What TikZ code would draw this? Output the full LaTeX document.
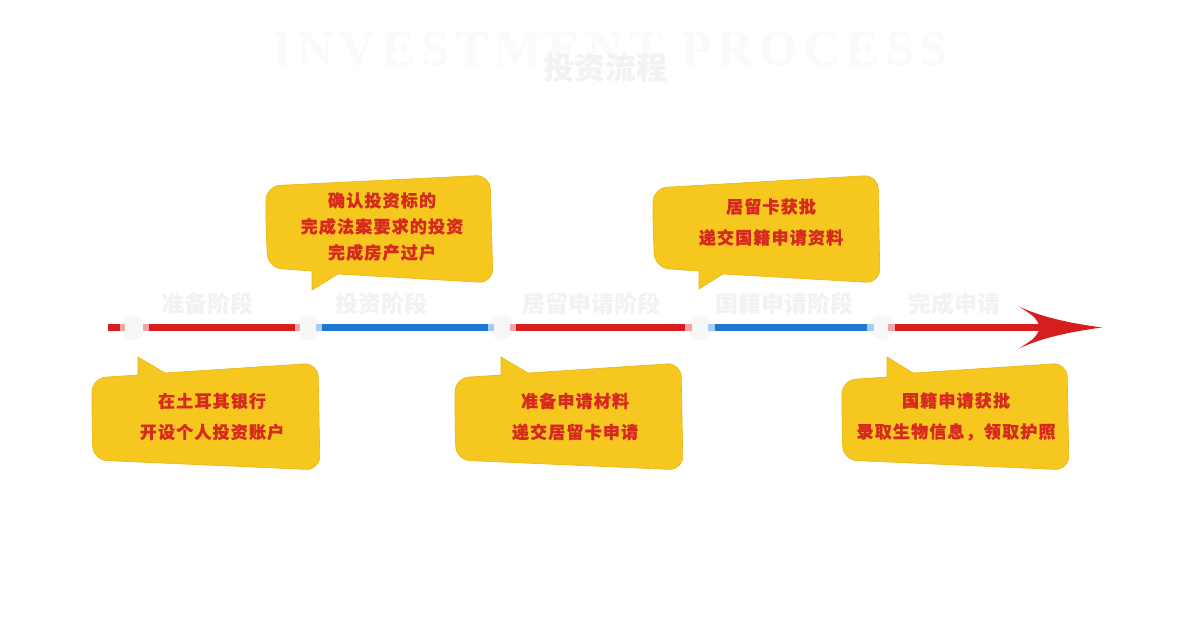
\documentclass[tikz,border=0pt]{standalone}
\usepackage{fontspec}
\newfontfamily\cjk{Noto Sans CJK SC}
\newfontfamily\cjkls{Noto Sans CJK SC}[LetterSpace=7, BoldFeatures={FakeBold=0.6}]
\newfontfamily\titlefont{Liberation Serif}[LetterSpace=12]
\definecolor{bubbleyellow}{HTML}{F6C81F}
\definecolor{bubbleedge}{HTML}{E6B612}
\definecolor{textred}{HTML}{D62A1E}
\definecolor{barred}{HTML}{D71E1E}
\definecolor{barblue}{HTML}{1F77D0}
\definecolor{barpink}{HTML}{F0A4A4}
\definecolor{barlblue}{HTML}{A6CCF0}
\definecolor{dotgray}{HTML}{F7F7F7}
\definecolor{stagegray}{HTML}{F2F2F2}
\definecolor{titlegray}{HTML}{FAFAFA}
\definecolor{titlecn}{HTML}{F2F2F2}
\begin{document}
\begin{tikzpicture}[x=1pt,y=-1pt,
  bubble/.style={fill=bubbleyellow, draw=bubbleedge, line width=0.6pt, rounded corners=14pt},
  bubbletext/.style={text=textred, font=\cjkls\bfseries\fontsize{17}{31}\selectfont, align=center, inner sep=0pt},
  stagelabel/.style={text=stagegray, font=\cjk\bfseries\fontsize{23}{23}\selectfont, inner sep=0pt},
  dot/.style={circle, fill=dotgray, minimum size=25pt, inner sep=0pt},
  redbar/.style={draw=barred, line width=7pt},
  bluebar/.style={draw=barblue, line width=7pt},
  pinkbar/.style={draw=barpink, line width=7pt},
  lbluebar/.style={draw=barlblue, line width=7pt}
]
\useasboundingbox[fill=white] (0,0) rectangle (1203,635);

% title
\node[anchor=base, inner sep=0pt, text=titlegray, font=\titlefont\bfseries\fontsize{50}{50}\selectfont] (title) at (610,65) {INVESTMENT PROCESS};
\node[inner sep=0pt, text=titlecn, font=\cjk\bfseries\fontsize{31}{31}\selectfont] (titlecn) at (605,67.5) {投资流程};

% stage labels
\node[stagelabel] (l1) at (207,304) {准备阶段};
\node[stagelabel] (l2) at (381,304) {投资阶段};
\node[stagelabel] (l3) at (591,304) {居留申请阶段};
\node[stagelabel] (l4) at (784,304) {国籍申请阶段};
\node[stagelabel] (l5) at (954,304) {完成申请};

% timeline dots
\coordinate (s) at (108,327.5);
\node[dot] (c1) at (133,327.5) {};
\node[dot] (c2) at (308,327.5) {};
\node[dot] (c3) at (502,327.5) {};
\node[dot] (c4) at (700,327.5) {};
\node[dot] (c5) at (882,327.5) {};
\coordinate (tip) at (1102,327.5);

% bars
\draw[pinkbar, shorten >=8pt] (s) -- (c1.center);
\draw[redbar, shorten >=13pt] (s) -- (c1.center);
\draw[pinkbar, shorten <=10pt, shorten >=8pt] (c1.center) -- (c2.center);
\draw[redbar, shorten <=16pt, shorten >=13pt] (c1.center) -- (c2.center);
\draw[lbluebar, shorten <=8pt, shorten >=8pt] (c2.center) -- (c3.center);
\draw[bluebar, shorten <=14pt, shorten >=14pt] (c2.center) -- (c3.center);
\draw[pinkbar, shorten <=8pt, shorten >=8pt] (c3.center) -- (c4.center);
\draw[redbar, shorten <=14pt, shorten >=15pt] (c3.center) -- (c4.center);
\draw[lbluebar, shorten <=8pt, shorten >=8pt] (c4.center) -- (c5.center);
\draw[bluebar, shorten <=15pt, shorten >=15pt] (c4.center) -- (c5.center);
\draw[pinkbar, shorten <=6pt, shorten >=150pt] (c5.center) -- (tip);
\draw[redbar, shorten <=13pt, shorten >=57pt] (c5.center) -- (tip);
\fill[barred, shift={(tip)}] (0,0) .. controls (-30,-4) and (-60,-10) .. (-83,-21)
  .. controls (-66,-10) .. (-62,0) .. controls (-66,10) .. (-83,21)
  .. controls (-60,10) and (-30,4) .. (0,0) -- cycle;

% bubbles
\path[bubble] (92,420) -- (92,378) [sharp corners] -- (138,375) -- (138,357) -- (165,373) [rounded corners=14pt] -- (318,363) -- (320,470) -- (93,460) -- cycle;
\path[bubble] (266,230) -- (266,186) -- (490,175) -- (493,283) [sharp corners] -- (338,274) -- (312,290) -- (312,271) [rounded corners=14pt] -- (268,268) -- cycle;
\path[bubble] (455,420) -- (455,378) [sharp corners] -- (501,375) -- (501,357) -- (528,373) [rounded corners=14pt] -- (681,363) -- (683,470) -- (456,460) -- cycle;
\path[bubble] (653,230) -- (653,188) -- (878,175) -- (880,283) [sharp corners] -- (723,274) -- (699,289) -- (699,271) [rounded corners=14pt] -- (655,268) -- cycle;
\path[bubble] (842,420) -- (842,380) [sharp corners] -- (887,377) -- (887,357) -- (913,373) [rounded corners=14pt] -- (1067,363) -- (1069,470) -- (843,460) -- cycle;

% bubble texts
\node[bubbletext] (t1) at (212,416.5) {在土耳其银行\\开设个人投资账户};
\node[bubbletext, font=\cjkls\bfseries\fontsize{17}{26}\selectfont] (t2) at (382,226.5) {确认投资标的\\完成法案要求的投资\\完成房产过户};
\node[bubbletext] (t3) at (575,416.5) {准备申请材料\\递交居留卡申请};
\node[bubbletext] (t4) at (771,222) {居留卡获批\\递交国籍申请资料};
\node[bubbletext] (t5) at (956,416.5) {国籍申请获批\\录取生物信息，领取护照};
\end{tikzpicture}
\end{document}
